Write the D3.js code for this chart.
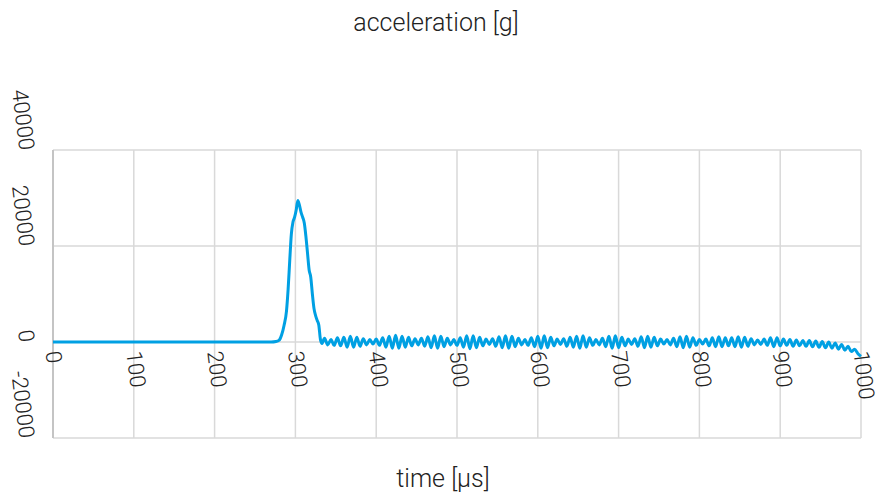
<!DOCTYPE html>
<html>
<head>
<meta charset="utf-8">
<script src="https://cdn.jsdelivr.net/npm/d3@7"></script>
<style>
body { margin: 0; background: #fff; }
text { font-family: Roboto, "Liberation Sans", sans-serif; font-weight: 300; fill: #222; }
</style>
</head>
<body>
<script>
var width = 880, height = 497;

// pulse part: time [us], acceleration [g]
var pulseTime = [0, 270, 276, 280, 283, 286, 289, 291, 293, 295, 297, 299, 301, 303, 305, 307, 309, 311, 313, 315, 317, 319, 321, 323, 325, 327, 329, 331, 333];
var pulseAccel = [0, 0, 100, 400, 1500, 3500, 6500, 11000, 17000, 22500, 25000, 26000, 27500, 29500, 28500, 27000, 26000, 24800, 22000, 18500, 15000, 13500, 10000, 7000, 5500, 4500, 3500, 500, -300];

// ringing after the pulse, one value every 4 us from 336 us
var ringStart = 336, ringStep = 4;
var ringAccel = [
  800, -600, 500, -700, 900, -800, 1000, -1100, 1200, -1100, 1000, -900, 700, -600, 500, -400, 600, -700, 900, -1100, 1200, -1300, 1400, -1300, 1200,
  -1100, 1000, -800, 700, -600, 800, -900, 1100, -1200, 1300, -1300, 1200, -1000, 800, -600, 500, -700, 900, -1100, 1300, -1400, 1300, -1200, 1000, -800,
  600, -500, 700, -900, 1100, -1200, 1300, -1300, 1200, -1000, 800, -600, 500, -700, 900, -1000, 1200, -1300, 1300, -1200, 1000, -800, 600, -500, 700,
  -900, 1000, -1100, 1200, -1300, 1300, -1100, 900, -700, 500, -600, 800, -1000, 1200, -1300, 1300, -1200, 1000, -800, 600, -500, 700, -900, 1100, -1200,
  1200, -1100, 1000, -800, 600, -400, 500, -600, 800, -1000, 1100, -1200, 1200, -1100, 900, -700, 500, -400, 600, -800, 900, -1000, 1100, -1000, 900,
  -800, 900, -1000, 1100, -1100, 1000, -900, 700, -600, 400, -500, 600, -700, 900, -1000, 900, -800, 600, -700, 500, -900, 400, -800, 300, -900,
  300, -1000, 200, -1100, 100, -1200, 0, -1300, -200, -1500, -500, -1700, -900, -2000, -1500, -2400, -3000
];

var xTicks = [0, 100, 200, 300, 400, 500, 600, 700, 800, 900, 1000];
var yTicks = [-20000, 0, 20000, 40000];

var data = pulseTime.map(function(t, i) { return [t, pulseAccel[i]]; });
ringAccel.forEach(function(v, i) { data.push([ringStart + i * ringStep, v]); });

var svg = d3.select("body").append("svg")
    .attr("width", width)
    .attr("height", height);

var xScale = d3.scaleLinear().domain([0, 1000]).range([53, 861]),
    yScale = d3.scaleLinear().domain([-20000, 40000]).range([438, 150]);

// grid
svg.append("g").selectAll("line.v")
    .data(xTicks)
    .enter().append("line")
    .attr("x1", function(d) { return xScale(d); })
    .attr("x2", function(d) { return xScale(d); })
    .attr("y1", yScale(40000))
    .attr("y2", yScale(-20000))
    .attr("stroke", "#d9d9d9")
    .attr("stroke-width", 1.5);

svg.append("g").selectAll("line.h")
    .data(yTicks)
    .enter().append("line")
    .attr("x1", xScale(0))
    .attr("x2", xScale(1000))
    .attr("y1", function(d) { return yScale(d); })
    .attr("y2", function(d) { return yScale(d); })
    .attr("stroke", "#d9d9d9")
    .attr("stroke-width", 1.5);

// left axis line
svg.append("line")
    .attr("x1", xScale(0)).attr("x2", xScale(0))
    .attr("y1", yScale(40000)).attr("y2", yScale(-20000))
    .attr("stroke", "#c4c4c4")
    .attr("stroke-width", 2);

// data line
var line = d3.line()
    .x(function(d) { return xScale(d[0]); })
    .y(function(d) { return yScale(d[1]); })
    .curve(d3.curveMonotoneX);

svg.append("path")
    .datum(data)
    .attr("fill", "none")
    .attr("stroke", "#00a0e3")
    .attr("stroke-width", 3)
    .attr("stroke-linejoin", "round")
    .attr("d", line);

// tick labels (rotated)
svg.append("g").selectAll("text")
    .data(xTicks)
    .enter().append("text")
    .attr("transform", function(d) { return "translate(" + xScale(d) + "," + 351 + ") rotate(83)"; })
    .attr("dominant-baseline", "central")
    .attr("text-anchor", "start")
    .style("font-size", "22px")
    .text(function(d) { return d; });

svg.append("g").selectAll("text")
    .data(yTicks)
    .enter().append("text")
    .attr("transform", function(d) { return "translate(" + 27 + "," + yScale(d) + ") rotate(83)"; })
    .attr("dominant-baseline", "central")
    .attr("text-anchor", "end")
    .style("font-size", "22px")
    .text(function(d) { return d; });

// titles
svg.append("text")
    .attr("x", 436).attr("y", 31)
    .attr("text-anchor", "middle")
    .style("font-size", "25px")
    .text("acceleration [g]");

svg.append("text")
    .attr("x", 443).attr("y", 487)
    .attr("text-anchor", "middle")
    .style("font-size", "25px")
    .text("time [μs]");
</script>
</body>
</html>
